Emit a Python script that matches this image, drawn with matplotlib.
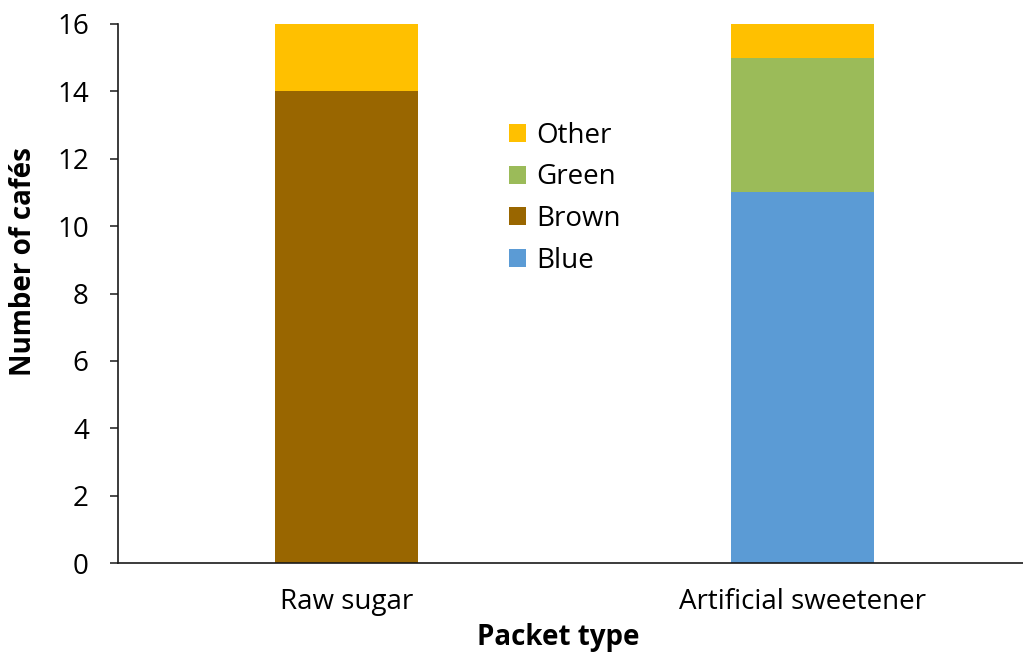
import matplotlib
matplotlib.use("Agg")
import matplotlib.pyplot as plt
from matplotlib.patches import Patch
import numpy as np

# Café packet survey: stacked counts per packet type
categories = ["Raw sugar", "Artificial sweetener"]
series_names = ["Blue", "Brown", "Green", "Other"]
blue = [0, 11]
brown = [14, 0]
green = [0, 4]
other = [2, 1]
series_values = [blue, brown, green, other]
colors = ["#5B9BD5", "#996600", "#9BBB59", "#FFC000"]
y_ticks = [0, 2, 4, 6, 8, 10, 12, 14, 16]

plt.rcParams["font.family"] = ["Open Sans", "DejaVu Sans"]

W, H = 1023, 653
fig = plt.figure(figsize=(W / 100, H / 100), dpi=100)
left, right, bottom, top = 118, 1031, 563, 24
ax = fig.add_axes([left / W, 1 - bottom / H, (right - left) / W, (bottom - top) / H])

x = np.arange(len(categories))
base = np.zeros(len(categories))
for name, vals, col in zip(series_names, series_values, colors):
    ax.bar(x, vals, width=0.314, bottom=base, color=col, label=name, linewidth=0)
    base += np.array(vals)

ax.set_xlim(-0.5, 1.5)
ax.set_ylim(0, 16)
ax.set_yticks(y_ticks)
ax.set_xticks(x)
ax.set_xticklabels(categories)

for side in ("top", "right"):
    ax.spines[side].set_visible(False)
for side in ("left", "bottom"):
    ax.spines[side].set_linewidth(1.2)
    ax.spines[side].set_color("#1a1a1a")

ax.tick_params(axis="y", direction="out", length=6, width=1.1, color="#1a1a1a",
               labelsize=20, pad=15)
ax.tick_params(axis="x", length=0, labelsize=20, pad=18)

fig.text(24 / W, 1 - 262 / H, "Number of cafés", rotation=90, ha="center", va="center",
         fontsize=20, fontweight="bold")
fig.text(558 / W, 1 - 637 / H, "Packet type", ha="center", va="center",
         fontsize=20, fontweight="bold")

handles = [Patch(facecolor=c, edgecolor="none") for c in reversed(colors)]
labels = list(reversed(series_names))
leg = fig.legend(handles, labels, loc="upper left", bbox_to_anchor=(495 / W, 1 - 108 / H),
                 frameon=False, fontsize=20, handlelength=0.62, handleheight=0.62,
                 handletextpad=0.35, labelspacing=0.49, borderpad=0)

fig.savefig("out.png", dpi=100)
